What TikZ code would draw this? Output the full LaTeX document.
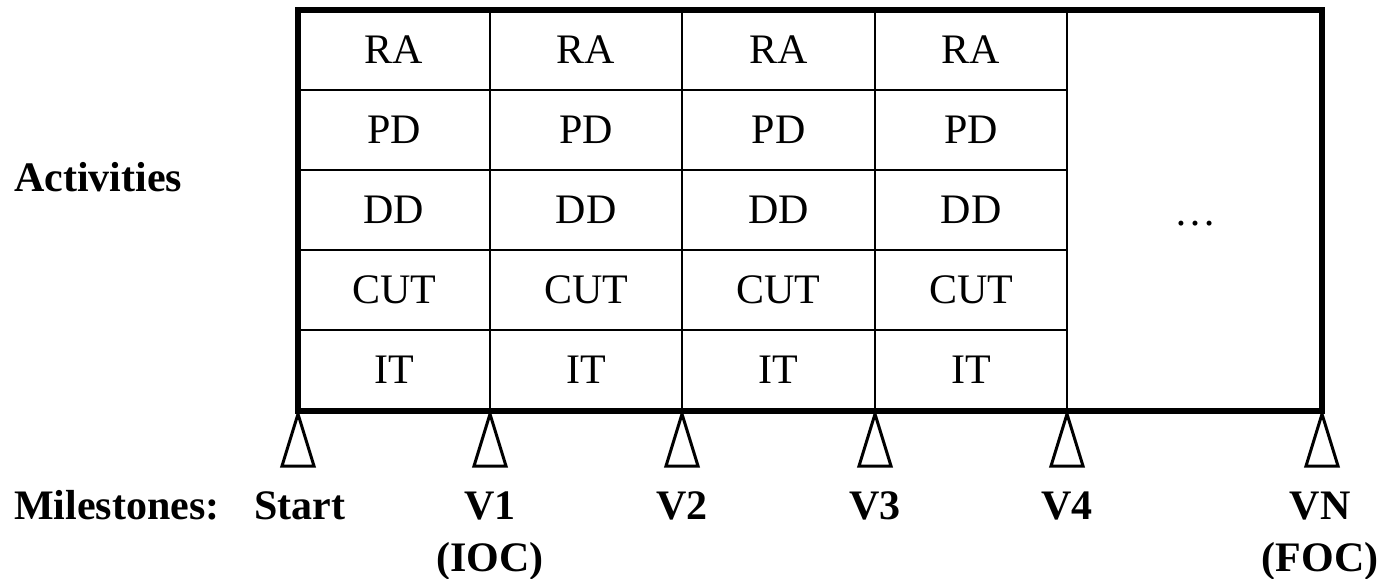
\documentclass[tikz,border=0pt]{standalone}
\usepackage{fontspec}
\setmainfont{Liberation Serif}
\begin{document}
\begin{tikzpicture}[x=1pt,y=-1pt,
  cell/.style={font=\fontsize{42}{50}\selectfont, inner sep=0pt},
  lbl/.style={font=\fontsize{42}{52}\selectfont\bfseries, inner sep=0pt, align=center},
  outer/.style={line width=5.5pt},
  inner/.style={line width=2pt},
  tri/.style={line width=3pt, line join=miter}]
\useasboundingbox (0,0) rectangle (1386,578);

% inner grid lines
\foreach \x in {490,682,875,1067}
  \draw[inner] (\x,10) -- (\x,411);
\foreach \y in {90,170,250,330}
  \draw[inner] (298,\y) -- (1067,\y);
% outer frame
\draw[outer] (298,10) rectangle (1322,411);

% cell texts
\foreach \c/\x in {1/394,2/586,3/778.5,4/971} {
  \node[cell] (ra\c)  at (\x,50)  {RA};
  \node[cell] (pd\c)  at (\x,130) {PD};
  \node[cell] (dd\c)  at (\x,210) {DD};
  \node[cell] (cut\c) at (\x,290) {CUT};
  \node[cell] (it\c)  at (\x,370) {IT};
}
\node[cell, anchor=base] (more) at (1195,225) {…};

% milestone markers
\foreach \i/\x in {0/298,1/490,2/682,3/875,4/1067,5/1322} {
  \coordinate (m\i) at (\x,414);
  \draw[tri] (m\i) -- ++(-16,52) -- ++(32,0) -- cycle;
}

% labels (two-line labels are anchored at the baseline of their last line)
\node[lbl, anchor=base west] (act) at (14,191) {Activities};
\node[lbl, anchor=base west] (ms) at (14,519) {Milestones:};
\node[lbl, anchor=base] (l0) at (300,519) {Start};
\node[lbl, anchor=base] (l1) at (490,571) {V1\\(IOC)};
\node[lbl, anchor=base] (l2) at (682,519) {V2};
\node[lbl, anchor=base] (l3) at (875,519) {V3};
\node[lbl, anchor=base] (l4) at (1067,519) {V4};
\node[lbl, anchor=base] (l5) at (1320,571) {VN\\(FOC)};
\end{tikzpicture}
\end{document}
